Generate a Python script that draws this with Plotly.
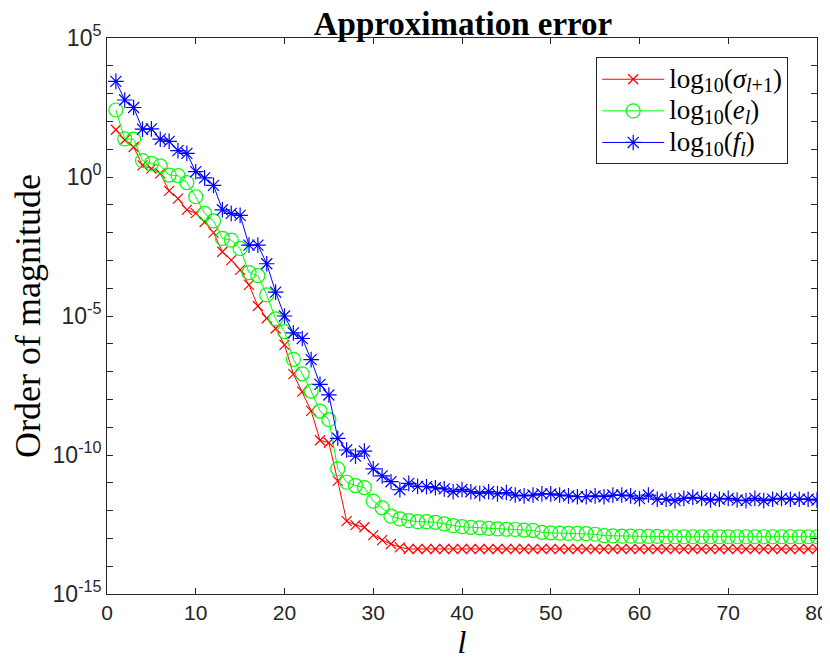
import plotly.graph_objects as go

l_vals = list(range(1, 81))

# log10 of each quantity
sigma_exp = [1.70, 1.33, 1.08, 0.42, 0.30, 0.13, -0.50, -0.78, -1.18, -1.30,
             -1.62, -2.00, -2.69, -2.99, -3.34, -3.88, -4.64, -5.08, -5.45, -6.04,
             -7.09, -7.72, -8.41, -9.47, -9.56, -10.93, -12.38, -12.52, -12.60, -12.88,
             -13.06, -13.20, -13.32] + [-13.38] * 47

e_exp = [2.41, 1.37, 1.36, 0.59, 0.49, 0.40, 0.07, 0.05, -0.20, -0.71,
         -1.31, -1.58, -2.21, -2.27, -2.57, -3.44, -3.55, -4.24, -5.10, -5.56,
         -6.56, -7.08, -7.70, -8.42, -8.73, -10.50, -10.98, -11.10, -11.17, -11.66,
         -11.90, -12.20, -12.30, -12.36, -12.40, -12.40, -12.42, -12.48, -12.54, -12.58,
         -12.60, -12.62, -12.64, -12.66, -12.67, -12.68, -12.70, -12.71, -12.78, -12.80,
         -12.81, -12.82, -12.82, -12.83, -12.85, -12.90, -12.91, -12.92, -12.92, -12.93,
         -12.93, -12.93, -12.94, -12.94, -12.94, -12.94, -12.94, -12.94, -12.94, -12.94,
         -12.94, -12.94, -12.94, -12.94, -12.94, -12.94, -12.94, -12.94, -12.94, -12.94]

f_exp = [3.44, 2.77, 2.50, 1.72, 1.73, 1.36, 1.28, 0.95, 0.85, 0.19,
         -0.03, -0.30, -1.18, -1.31, -1.38, -2.45, -2.45, -3.12, -4.14, -5.00,
         -5.61, -5.81, -6.57, -7.46, -7.84, -9.40, -9.82, -10.04, -9.86, -10.50,
         -10.75, -10.96, -11.25, -11.02, -11.13, -11.14, -11.18, -11.22, -11.32, -11.24,
         -11.32, -11.38, -11.32, -11.40, -11.35, -11.44, -11.47, -11.44, -11.40, -11.40,
         -11.44, -11.47, -11.50, -11.50, -11.47, -11.50, -11.44, -11.44, -11.47, -11.57,
         -11.44, -11.59, -11.59, -11.64, -11.56, -11.52, -11.56, -11.62, -11.59, -11.56,
         -11.62, -11.64, -11.56, -11.64, -11.59, -11.56, -11.59, -11.59, -11.59, -11.62]

sub_open = "<sub><span style='font-size:20px'>"
sub_close = "</span></sub>"
big_open = "<span style='font-size:27px'>"
big_close = "</span>"
names = [big_open + "log" + big_close + sub_open + "10" + sub_close + big_open + "(<i>σ</i>" + big_close
         + sub_open + "<i>l</i>+1" + sub_close + big_open + ")" + big_close,
         big_open + "log" + big_close + sub_open + "10" + sub_close + big_open + "(<i>e</i>" + big_close
         + sub_open + "<i>l</i>" + sub_close + big_open + ")" + big_close,
         big_open + "log" + big_close + sub_open + "10" + sub_close + big_open + "(<i>f</i>" + big_close
         + sub_open + "<i>l</i>" + sub_close + big_open + ")" + big_close]

y_tick_exps = list(range(-15, 6))
x_tick_vals = list(range(0, 81, 10))

serif = "Liberation Serif, Times New Roman, serif"
sans = "Liberation Sans Narrow, Arial Narrow, Liberation Sans, Arial, sans-serif"

fig = go.Figure()
fig.add_trace(go.Scatter(
    x=l_vals, y=[10 ** v for v in sigma_exp], mode="lines+markers", name=names[0],
    line=dict(color="#FF0000", width=1),
    marker=dict(symbol="x-thin-open", size=10, color="#FF0000", line=dict(color="#FF0000", width=1.2))))
fig.add_trace(go.Scatter(
    x=l_vals, y=[10 ** v for v in e_exp], mode="lines+markers", name=names[1],
    line=dict(color="#00FF00", width=1),
    marker=dict(symbol="circle-open", size=14, color="#00FF00", line=dict(color="#00FF00", width=1.2))))
fig.add_trace(go.Scatter(
    x=l_vals, y=[10 ** v for v in f_exp], mode="lines+markers", name=names[2],
    line=dict(color="#0000FF", width=1),
    marker=dict(symbol="asterisk-open", size=13, color="#0000FF", line=dict(color="#0000FF", width=1.2))))

ytext = [("10<sup>%d</sup>" % e) if e % 5 == 0 else "" for e in y_tick_exps]

# the page sits 8px in from the window edge
fig.update_layout(
    width=830, height=654,
    margin=dict(l=99, r=21, t=30, b=68),
    paper_bgcolor="white", plot_bgcolor="white",
    title=dict(text="<b>Approximation error</b>", x=(455 / 830), xanchor="center",
               y=1 - 15 / 654, yanchor="middle", yref="container",
               font=dict(family=serif, size=33, color="black")),
    showlegend=True,
    legend=dict(x=0.689, y=0.965, xanchor="left", yanchor="top",
                bgcolor="white", bordercolor="#262626", borderwidth=1,
                font=dict(family=serif, size=22, color="black"),
                tracegroupgap=0, itemwidth=62),
    xaxis=dict(range=[0, 80], tickvals=x_tick_vals, ticktext=[str(v) for v in x_tick_vals],
               ticks="inside", ticklen=6, tickcolor="#262626", mirror="ticks", automargin=False,
               ticklabeloverflow="allow",
               showline=True, linecolor="#262626", linewidth=1, showgrid=False, zeroline=False,
               tickfont=dict(family=sans, size=21, color="#262626"),
               title=dict(text="<i>l</i>", font=dict(family=serif, size=32, color="black"), standoff=0)),
    yaxis=dict(type="log", range=[-15, 5], tickvals=[10.0 ** e for e in y_tick_exps], ticktext=ytext,
               ticks="inside", ticklen=6, tickcolor="#262626", mirror="ticks", automargin=False,
               ticklabeloverflow="allow",
               showline=True, linecolor="#262626", linewidth=1, showgrid=False, zeroline=False,
               tickfont=dict(family=sans, size=23, color="#262626"),
               title=dict(text="Order of magnitude", font=dict(family=serif, size=36, color="black"), standoff=22)),
)

fig.write_html("out.html")
